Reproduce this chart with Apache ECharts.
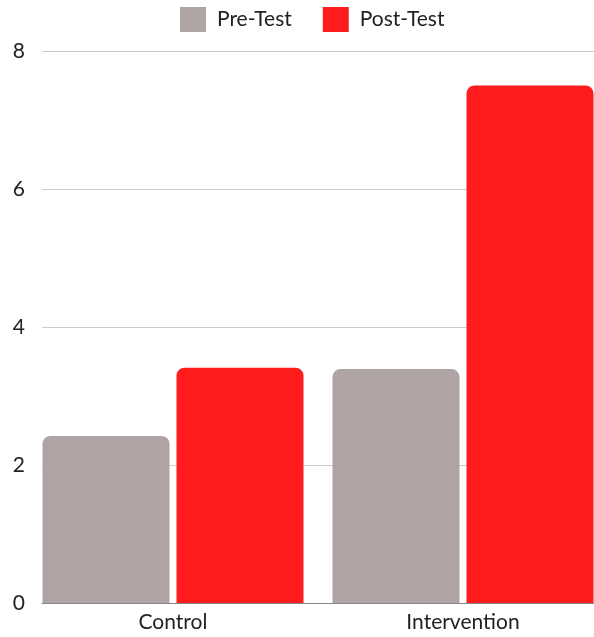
<!DOCTYPE html>
<html>
<head>
<meta charset="utf-8">
<script src="https://cdn.jsdelivr.net/npm/echarts@6/dist/echarts.min.js"></script>
<style>
  html, body { margin: 0; padding: 0; background: #fff; }
  #main { width: 594px; height: 637px; }
</style>
</head>
<body>
<div id="main"></div>
<script>
var categories = ['Control', 'Intervention'];
var preTest = [2.42, 3.39];
var postTest = [3.41, 7.5];
var seriesNames = ['Pre-Test', 'Post-Test'];

var textColor = '#222222';
var fontFamily = 'Lato, sans-serif';
var fontSize = 21;

var chart = echarts.init(document.getElementById('main'));
var option = {
  animation: false,
  color: ['#afa3a3', '#fe1c1c'],
  textStyle: { fontFamily: fontFamily },
  legend: {
    data: seriesNames,
    top: 2,
    left: 175,
    itemWidth: 26,
    itemHeight: 25,
    itemGap: 31,
    icon: 'rect',
    textStyle: { color: textColor, fontSize: fontSize, fontFamily: fontFamily, padding: [0, 0, 0, 6] }
  },
  grid: [
    // grid for gridlines and baseline
    { left: 42, right: 0, top: 51, bottom: 34 },
    // grid for bars, wider so the bars sit flush with the plot edges
    { left: 28, width: 580, top: 51, bottom: 34, outerBoundsMode: 'none', containLabel: false }
  ],
  xAxis: [{
    type: 'category',
    gridIndex: 0,
    data: categories,
    axisTick: { show: false },
    axisLabel: { show: false },
    axisLine: { lineStyle: { color: '#888888', width: 1 } }
  }, {
    type: 'category',
    gridIndex: 1,
    data: categories,
    axisTick: { show: false },
    axisLine: { show: false },
    axisLabel: { color: textColor, fontSize: fontSize, margin: 9, fontFamily: fontFamily }
  }],
  yAxis: [{
    type: 'value',
    gridIndex: 0,
    min: 0,
    max: 8,
    interval: 2,
    axisLine: { show: false },
    axisTick: { show: false },
    axisLabel: { color: textColor, fontSize: fontSize, margin: 17, fontFamily: fontFamily },
    splitLine: { lineStyle: { color: '#cccccc', width: 1 } }
  }, {
    type: 'value',
    gridIndex: 1,
    min: 0,
    max: 8,
    interval: 2,
    show: false,
    splitLine: { show: false }
  }],
  series: [{
    name: seriesNames[0],
    type: 'bar',
    xAxisIndex: 1,
    yAxisIndex: 1,
    data: preTest,
    barCategoryGap: '10%',
    barGap: '5.5%',
    itemStyle: { borderRadius: [8, 8, 0, 0] }
  }, {
    name: seriesNames[1],
    type: 'bar',
    xAxisIndex: 1,
    yAxisIndex: 1,
    data: postTest,
    barCategoryGap: '10%',
    barGap: '5.5%',
    itemStyle: { borderRadius: [8, 8, 0, 0] }
  }]
};
chart.setOption(option);
</script>
</body>
</html>
